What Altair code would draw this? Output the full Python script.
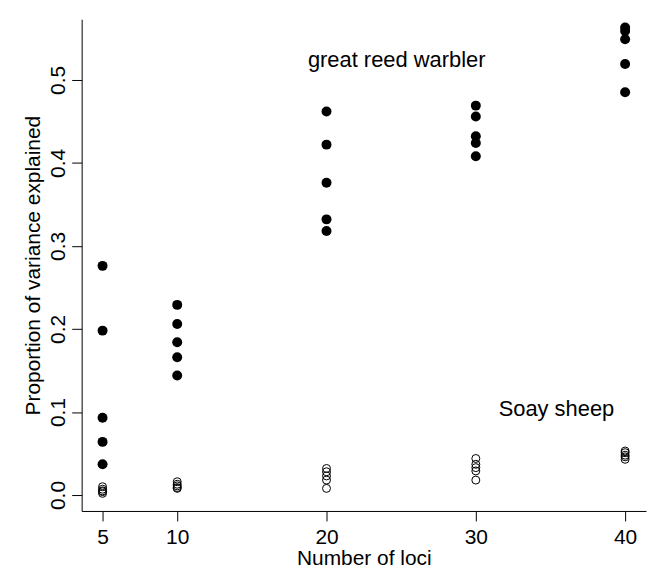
import altair as alt
import pandas as pd

# Number of loci (x positions)
loci = [5, 10, 20, 30, 40]

# great reed warbler (filled circles), 5 replicates per number of loci
warbler_5 = [0.276, 0.198, 0.093, 0.064, 0.037]
warbler_10 = [0.229, 0.206, 0.184, 0.166, 0.144]
warbler_20 = [0.462, 0.422, 0.376, 0.332, 0.318]
warbler_30 = [0.469, 0.456, 0.432, 0.424, 0.408]
warbler_40 = [0.563, 0.559, 0.549, 0.519, 0.485]

# Soay sheep (open circles)
sheep_5 = [0.010, 0.007, 0.005, 0.004, 0.002]
sheep_10 = [0.016, 0.013, 0.011, 0.009, 0.008]
sheep_20 = [0.032, 0.028, 0.023, 0.018, 0.008]
sheep_30 = [0.044, 0.037, 0.033, 0.029, 0.018]
sheep_40 = [0.053, 0.051, 0.048, 0.046, 0.043]

# annotations
annot_text = ["great reed warbler", "Soay sheep"]
annot_x = [24.7, 35.4]
annot_y = [0.524, 0.103]

x_ticks = [5, 10, 20, 30, 40]
y_ticks = [0.0, 0.1, 0.2, 0.3, 0.4, 0.5]

warbler = [warbler_5, warbler_10, warbler_20, warbler_30, warbler_40]
sheep = [sheep_5, sheep_10, sheep_20, sheep_30, sheep_40]

rows = []
for n, vals in zip(loci, warbler):
    for v in vals:
        rows.append({"loci": n, "prop": v, "species": "great reed warbler"})
for n, vals in zip(loci, sheep):
    for v in vals:
        rows.append({"loci": n, "prop": v, "species": "Soay sheep"})
df = pd.DataFrame(rows)
ann = pd.DataFrame({"x": annot_x, "y": annot_y, "t": annot_text})

FONT = "Liberation Sans"
FS = 21
FS_ANN = 22

xscale = alt.Scale(domain=[3.6, 41.4], nice=False, zero=False)
yscale = alt.Scale(domain=[-0.0192, 0.573], nice=False, zero=False)

xaxis = alt.Axis(values=x_ticks, title="Number of loci", grid=False,
                 labelFontSize=FS, titleFontSize=FS, tickSize=10,
                 labelBaseline="alphabetic", labelPadding=23,
                 titleBaseline="alphabetic", titleY=54, labelFlush=False)
yaxis = alt.Axis(values=y_ticks, format=".1f", title="Proportion of variance explained",
                 grid=False, labelFontSize=FS, titleFontSize=FS, tickSize=10,
                 labelAngle=270, labelAlign="center", labelBaseline="alphabetic",
                 labelPadding=7, titleBaseline="alphabetic", titleX=-42, labelFlush=False)

base = alt.Chart(df)

filled = base.transform_filter(alt.datum.species == "great reed warbler").mark_point(
    shape="circle", filled=True, color="black", size=100, opacity=1
).encode(
    x=alt.X("loci:Q", scale=xscale, axis=xaxis),
    y=alt.Y("prop:Q", scale=yscale, axis=yaxis),
)

open_pts = base.transform_filter(alt.datum.species == "Soay sheep").mark_point(
    shape="circle", filled=False, color="black", size=64, strokeWidth=1, opacity=1
).encode(
    x=alt.X("loci:Q", scale=xscale),
    y=alt.Y("prop:Q", scale=yscale),
)

text = alt.Chart(ann).mark_text(font=FONT, fontSize=FS_ANN, color="black",
                                align="center", baseline="middle").encode(
    x=alt.X("x:Q", scale=xscale),
    y=alt.Y("y:Q", scale=yscale),
    text="t:N",
)

chart = alt.layer(filled, open_pts, text).properties(
    width=567, height=494,
    autosize=alt.AutoSizeParams(type="none"),
    padding={"left": 74, "top": 10, "right": 5, "bottom": 59},
).configure_view(stroke=None).configure_axis(
    domainColor="black", tickColor="black", labelColor="black", titleColor="black",
    labelFont=FONT, titleFont=FONT, titleFontWeight="normal", domainWidth=1, tickWidth=1,
)

chart.save("out.html", embed_options={"renderer": "svg", "actions": False})
